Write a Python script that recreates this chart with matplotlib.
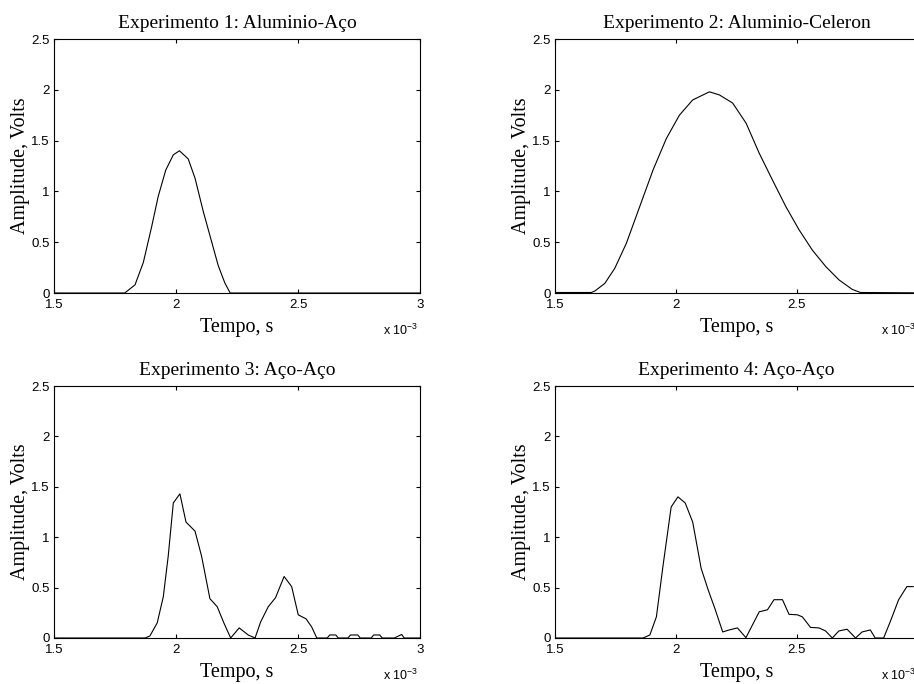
import matplotlib
matplotlib.use("Agg")
import matplotlib.pyplot as plt

# tempo em unidades de 1e-3 s, amplitude em Volts
exp1_t = [1.5, 1.79, 1.832, 1.866, 1.90, 1.927, 1.958, 1.989, 2.014, 2.05, 2.078,
          2.112, 2.142, 2.173, 2.20, 2.222, 3.0]
exp1_v = [0, 0, 0.08, 0.30, 0.65, 0.95, 1.21, 1.36, 1.40, 1.32, 1.13,
          0.80, 0.54, 0.27, 0.10, 0, 0]

exp2_t = [1.5, 1.65, 1.665, 1.706, 1.747, 1.795, 1.85, 1.905, 1.96, 2.014, 2.069,
          2.138, 2.179, 2.234, 2.29, 2.344, 2.399, 2.454, 2.509, 2.564, 2.619,
          2.674, 2.728, 2.762, 3.1]
exp2_v = [0.005, 0.005, 0.02, 0.095, 0.243, 0.49, 0.85, 1.21, 1.52, 1.75, 1.90,
          1.98, 1.95, 1.87, 1.67, 1.375, 1.11, 0.85, 0.62, 0.42, 0.26,
          0.128, 0.036, 0.005, 0]

exp3_t = [1.5, 1.873, 1.893, 1.923, 1.948, 1.968, 1.989, 2.016, 2.041, 2.078, 2.105,
          2.139, 2.169, 2.197, 2.224, 2.259, 2.296, 2.324, 2.347, 2.378, 2.408,
          2.443, 2.474, 2.501, 2.533, 2.556, 2.577, 2.62, 2.63, 2.655, 2.665,
          2.705, 2.715, 2.745, 2.755, 2.80, 2.81, 2.835, 2.845, 2.895, 2.925,
          2.935, 3.0]
exp3_v = [0, 0, 0.02, 0.15, 0.41, 0.81, 1.34, 1.43, 1.15, 1.06, 0.81,
          0.39, 0.31, 0.145, 0, 0.1, 0.03, 0, 0.16, 0.31, 0.40,
          0.61, 0.51, 0.23, 0.19, 0.11, 0, 0, 0.03, 0.03, 0,
          0, 0.03, 0.03, 0, 0, 0.03, 0.03, 0, 0, 0.035,
          0, 0]

exp4_t = [1.5, 1.864, 1.892, 1.919, 1.946, 1.98, 2.008, 2.038, 2.069, 2.104, 2.134,
          2.161, 2.193, 2.22, 2.254, 2.289, 2.316, 2.344, 2.378, 2.405, 2.44,
          2.467, 2.502, 2.522, 2.556, 2.591, 2.618, 2.646, 2.673, 2.707, 2.742,
          2.769, 2.803, 2.823, 2.858, 2.885, 2.92, 2.954, 2.98]
exp4_v = [0, 0, 0.03, 0.21, 0.71, 1.30, 1.40, 1.34, 1.15, 0.69, 0.47,
          0.29, 0.06, 0.08, 0.10, 0.003, 0.13, 0.26, 0.28, 0.38, 0.38,
          0.235, 0.23, 0.21, 0.105, 0.10, 0.07, 0, 0.07, 0.087, 0,
          0.06, 0.08, 0, 0, 0.16, 0.38, 0.51, 0.51]

titles = ["Experimento 1: Aluminio-Aço", "Experimento 2: Aluminio-Celeron",
          "Experimento 3: Aço-Aço", "Experimento 4: Aço-Aço"]
x_ticks = [1.5, 2, 2.5, 3]
x_tick_labels = ["1.5", "2", "2.5", "3"]
y_ticks = [0, 0.5, 1, 1.5, 2, 2.5]
y_tick_labels = ["0", "0.5", "1", "1.5", "2", "2.5"]

SERIF = "Liberation Serif"
SANS = "Liberation Sans"

plt.rcParams["mathtext.fontset"] = "custom"
plt.rcParams["mathtext.rm"] = SANS
plt.rcParams["mathtext.it"] = SANS
plt.rcParams["mathtext.default"] = "rm"


def plot_experiment(fig, rect, t, v, title):
    ax = fig.add_axes(rect)
    ax.plot(t, v, color="black", lw=0.8)
    ax.set_xlim(1.5, 3.0)
    ax.set_ylim(0, 2.5)
    ax.set_xticks(x_ticks)
    ax.set_xticklabels(x_tick_labels, family=SANS, fontsize=9.5)
    ax.set_yticks(y_ticks)
    ax.set_yticklabels(y_tick_labels, family=SANS, fontsize=9.5)
    ax.tick_params(direction="in", length=3, width=0.8, top=True, right=True, pad=3)
    ax.tick_params(axis="x", pad=4.5)
    for s in ax.spines.values():
        s.set_linewidth(0.8)
    ax.set_title(title, family=SERIF, fontsize=14, pad=8)
    ax.set_xlabel("Tempo, s", family=SERIF, fontsize=14.5, labelpad=5)
    ax.set_ylabel("Amplitude, Volts", family=SERIF, fontsize=14.5, labelpad=1)
    ax.text(0.995, -0.165, "x 10$^{-3}$", transform=ax.transAxes, ha="right",
            va="baseline", family=SANS, fontsize=9)
    return ax


def main():
    fig = plt.figure(figsize=(9.14, 6.84), dpi=100)
    W, H = 914.0, 684.0
    rects = [
        (54 / W, (H - 293) / H, 366 / W, 254 / H),
        (555 / W, (H - 293) / H, 363 / W, 254 / H),
        (54 / W, (H - 638) / H, 366 / W, 252 / H),
        (555 / W, (H - 638) / H, 363 / W, 252 / H),
    ]
    series = [(exp1_t, exp1_v), (exp2_t, exp2_v), (exp3_t, exp3_v), (exp4_t, exp4_v)]
    for rect, (t, v), title in zip(rects, series, titles):
        plot_experiment(fig, rect, t, v, title)
    fig.savefig("out.png", dpi=100)
    plt.close(fig)


if __name__ == "__main__":
    main()
